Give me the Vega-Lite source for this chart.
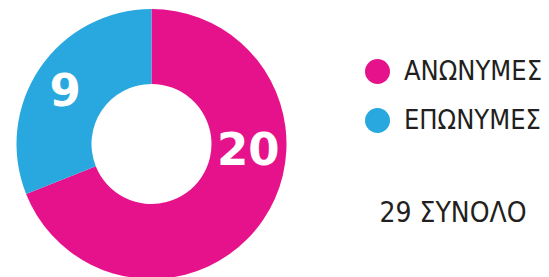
{
  "$schema": "https://vega.github.io/schema/vega-lite/v6.json",
  "autosize": {"type": "none"},
  "width": 303,
  "height": 288,
  "padding": {"left": 0, "top": 0, "right": 246, "bottom": 0},
  "background": "white",
  "view": {"stroke": null},
  "data": {
    "values": [
      {"category": "ΑΝΩΝΥΜΕΣ", "count": 20},
      {"category": "ΕΠΩΝΥΜΕΣ", "count": 9}
    ]
  },
  "encoding": {
    "theta": {"field": "count", "type": "quantitative", "stack": true},
    "order": {"field": "category", "type": "nominal", "sort": "ascending"}
  },
  "layer": [
    {
      "mark": {"type": "arc", "outerRadius": 135, "innerRadius": 60},
      "encoding": {
        "color": {
          "field": "category",
          "type": "nominal",
          "scale": {"domain": ["ΑΝΩΝΥΜΕΣ", "ΕΠΩΝΥΜΕΣ"], "range": ["#E6128B", "#29A8E0"]},
          "legend": {
            "orient": "none",
            "legendX": 364,
            "legendY": 58,
            "padding": 0,
            "title": "29 ΣΥΝΟΛΟ",
            "titleOrient": "bottom",
            "titleAnchor": "middle",
            "titlePadding": 66,
            "titleFont": "DejaVu Sans Condensed",
            "titleFontSize": 28,
            "titleFontWeight": "normal",
            "titleColor": "#231F20",
            "symbolType": "circle",
            "symbolSize": 625,
            "symbolStrokeWidth": 0,
            "symbolOpacity": 1,
            "labelFont": "DejaVu Sans Condensed",
            "labelFontSize": 27,
            "labelColor": "#231F20",
            "labelOffset": 13,
            "rowPadding": 21,
            "labelLimit": 300
          }
        }
      }
    },
    {
      "mark": {"type": "text", "radius": 97, "thetaOffset": -0.52, "font": "DejaVu Sans", "fontWeight": "bold", "fontSize": 45, "fill": "white", "baseline": "middle", "align": "center"},
      "encoding": {
        "text": {"field": "count", "type": "quantitative"},
        "opacity": {"condition": {"test": "datum.category === 'ΑΝΩΝΥΜΕΣ'", "value": 1}, "value": 0}
      }
    },
    {
      "mark": {"type": "text", "radius": 101, "thetaOffset": -0.05, "font": "DejaVu Sans", "fontWeight": "bold", "fontSize": 45, "fill": "white", "baseline": "middle", "align": "center"},
      "encoding": {
        "text": {"field": "count", "type": "quantitative"},
        "opacity": {"condition": {"test": "datum.category === 'ΕΠΩΝΥΜΕΣ'", "value": 1}, "value": 0}
      }
    }
  ]
}
